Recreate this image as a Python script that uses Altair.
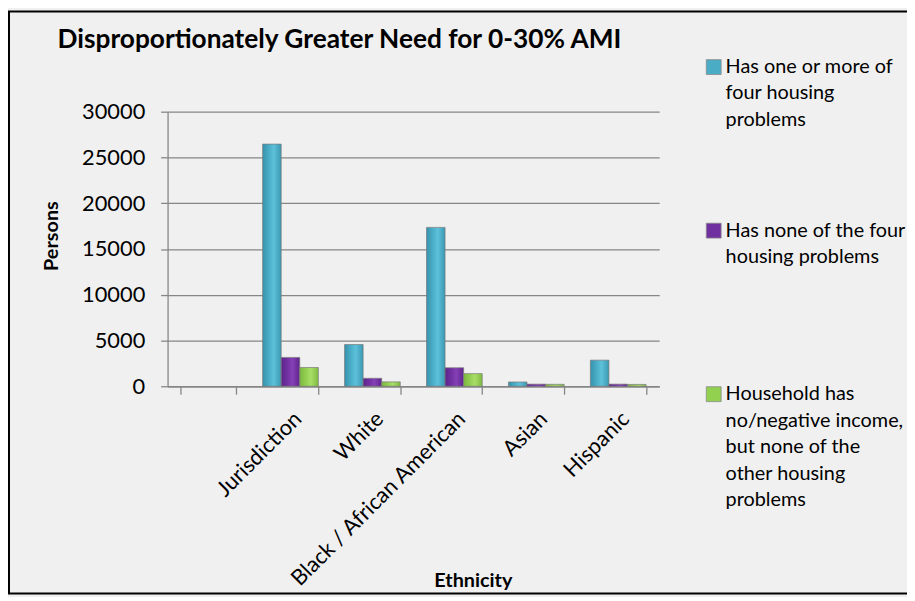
import altair as alt
import pandas as pd

# ---- data ----
categories = ["Jurisdiction", "White", "Black / African American", "Asian", "Hispanic"]
axis_categories = [" "] + categories  # first slot of the category axis is empty
series = [
    "Has one or more of four housing problems",
    "Has none of the four housing problems",
    "Household has no/negative income, but none of the other housing problems",
]
legend_labels = [
    "Has one or more of\nfour housing\nproblems",
    "Has none of the four\nhousing problems",
    "Household has\nno/negative income,\nbut none of the\nother housing\nproblems",
]
values_one_or_more = [26460, 4560, 17360, 470, 2850]
values_none = [3150, 870, 2020, 230, 230]
values_no_income = [2050, 480, 1380, 210, 200]

title_text = "Disproportionately Greater Need for 0-30% AMI"

# ---- styling ----
FONT = "Lato"
base_colors = ["#4BACC6", "#7030A0", "#92D050"]
gradients = [
    [("#3592ac", 0), ("#52b6d0", 0.45), ("#5ec0da", 0.6), ("#3a99b3", 1)],
    [("#5c2388", 0), ("#7a36ab", 0.45), ("#8540b6", 0.6), ("#5f258c", 1)],
    [("#7cb83d", 0), ("#9bd65a", 0.45), ("#a8de68", 0.6), ("#80bb40", 1)],
]

rows = []
for s, vals in zip(series, [values_one_or_more, values_none, values_no_income]):
    for c, v in zip(categories, vals):
        rows.append({"category": c, "series": s, "persons": v})
df = pd.DataFrame(rows)

x_enc = alt.X(
    "category:N",
    scale=alt.Scale(domain=axis_categories, paddingInner=0.32, paddingOuter=0.16),
    axis=alt.Axis(
        title="Ethnicity",
        grid=False,
        tickBand="extent",
        tickSize=8,
        labelAngle=315,
        labelAlign="right",
        labelBaseline="middle",
        labelPadding=21,
        labelOffset=7,
        labelFontSize=22,
        labelLimit=400,
        titleFontSize=20,
        titleFontWeight="bold",
        titleX=308,
        titleY=186,
        titleBaseline="top",
        titleAlign="center",
    ),
)
y_enc = alt.Y(
    "persons:Q",
    scale=alt.Scale(domain=[0, 30000], nice=False),
    axis=alt.Axis(
        title="Persons",
        values=[0, 5000, 10000, 15000, 20000, 25000, 30000],
        format="d",
        grid=True,
        gridWidth=1.3,
        tickSize=7,
        labelPadding=16,
        labelFontSize=22,
        titleFontSize=20,
        titleFontWeight="bold",
        titleAngle=270,
        titleX=-117,
        titleY=125,
        titleAlign="center",
        titleBaseline="middle",
    ),
)
xo_enc = alt.XOffset("series:N", scale=alt.Scale(domain=series, paddingInner=0))

bar_layers = []
for s, g in zip(series, gradients):
    grad = alt.LinearGradient(
        gradient="linear",
        stops=[alt.GradientStop(color=c, offset=o) for c, o in g],
        x1=0, x2=1, y1=0, y2=0,
    )
    bar_layers.append(
        alt.Chart(df)
        .transform_filter(alt.datum.series == s)
        .mark_bar(fill=grad, stroke="#7a7a7a", strokeWidth=0.7)
        .encode(x=x_enc, xOffset=xo_enc, y=y_enc)
    )
bars = alt.layer(*bar_layers)

legend_df = pd.DataFrame({"series": series, "label": legend_labels})
leg_y = alt.Y(
    "series:N",
    scale=alt.Scale(type="point", domain=series, range=[-45, 285], padding=0),
    axis=None,
)
leg_sq = alt.Chart(legend_df).mark_square(size=225, opacity=1, stroke="#8a8a8a", strokeWidth=0.8).encode(
    x=alt.value(551),
    y=leg_y,
    color=alt.Color("series:N", scale=alt.Scale(domain=series, range=base_colors), legend=None),
)
leg_txt = alt.Chart(legend_df).mark_text(
    align="left", baseline="top", dy=-10, fontSize=20, font=FONT, lineBreak="\n", lineHeight=26.7, color="black"
).encode(x=alt.value(563), y=leg_y, text="label:N")
legend = alt.layer(leg_sq, leg_txt)

title_df = pd.DataFrame({"title": [title_text]})
title_mark = alt.Chart(title_df).mark_text(
    align="left", baseline="alphabetic", fontSize=26.5, font=FONT, fontWeight="bold", color="black"
).encode(x=alt.value(-111), y=alt.value(-64), text="title:N")

frame = alt.Chart(alt.Data(values=[{"k": 1}])).mark_rect(
    fillOpacity=0, stroke="black", strokeWidth=2
).encode(x=alt.value(-160), x2=alt.value(790), y=alt.value(-101), y2=alt.value(486))

chart = (
    alt.layer(bars, legend, title_mark, frame)
    .resolve_scale(y="independent")
    .properties(
        width=496,
        height=277,
        autosize=alt.AutoSizeParams(type="none"),
        padding={"left": 161, "top": 102, "right": 250, "bottom": 210},
        background="#f0f0f0",
    )
    .configure_view(stroke=None)
    .configure_axis(
        domainColor="#868686",
        tickColor="#868686",
        gridColor="#868686",
        domainWidth=1.3,
        tickWidth=1.3,
        labelFont=FONT,
        titleFont=FONT,
        labelColor="black",
        titleColor="black",
    )
)

chart.save("out.html", embed_options={"renderer": "svg", "actions": False})
